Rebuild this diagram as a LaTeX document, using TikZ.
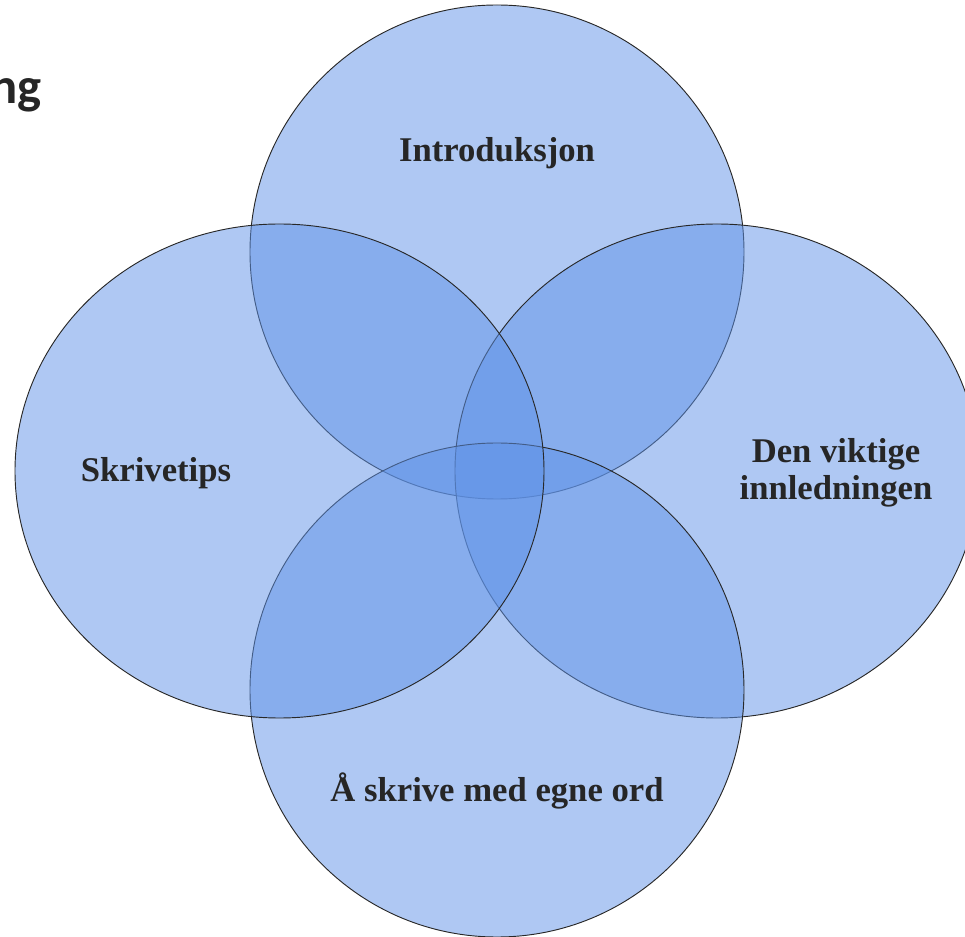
\documentclass[tikz,border=0pt]{standalone}
\usepackage{fontspec}
\setmainfont{Liberation Serif}
\newfontfamily\headfont{Carlito}
\definecolor{vblue}{RGB}{95,146,231}
\definecolor{vtext}{RGB}{38,38,38}
\definecolor{vline}{RGB}{40,40,40}
\tikzset{
  vset/.style={fill=vblue, fill opacity=0.5, draw=vline, draw opacity=1, line width=0.7pt},
  vlabel/.style={text=vtext, font=\fontsize{26pt}{28pt}\selectfont\bfseries, inner sep=0pt, align=center},
  vhead/.style={text=vtext, font=\fontsize{38pt}{40pt}\selectfont\headfont\bfseries, inner sep=0pt}
}
\begin{document}
\begin{tikzpicture}[x=0.75pt,y=-0.75pt]
\useasboundingbox (0,0) rectangle (965,937);
\begin{scope}
\clip (0,0) rectangle (965,937);
% order: top, right, bottom, left
\path[vset] (497,252) ellipse [x radius=247, y radius=247];
\path[vset] (717,471) ellipse [x radius=262, y radius=247];
\path[vset] (497,690) ellipse [x radius=247, y radius=247];
\path[vset] (279.5,471) ellipse [x radius=264.5, y radius=247];
\end{scope}
\node[vhead, anchor=base east] (head) at (42,104) {ng};
\node[vlabel, anchor=base] (intro) at (497,162) {Introduksjon};
\node[vlabel, anchor=base] (tips) at (156,482) {Skrivetips};
\node[vlabel, anchor=center] (innl) at (836,473) {Den viktige\\innledningen};
\node[vlabel, anchor=base] (egne) at (497,802) {Å skrive med egne ord};
\end{tikzpicture}
\end{document}
